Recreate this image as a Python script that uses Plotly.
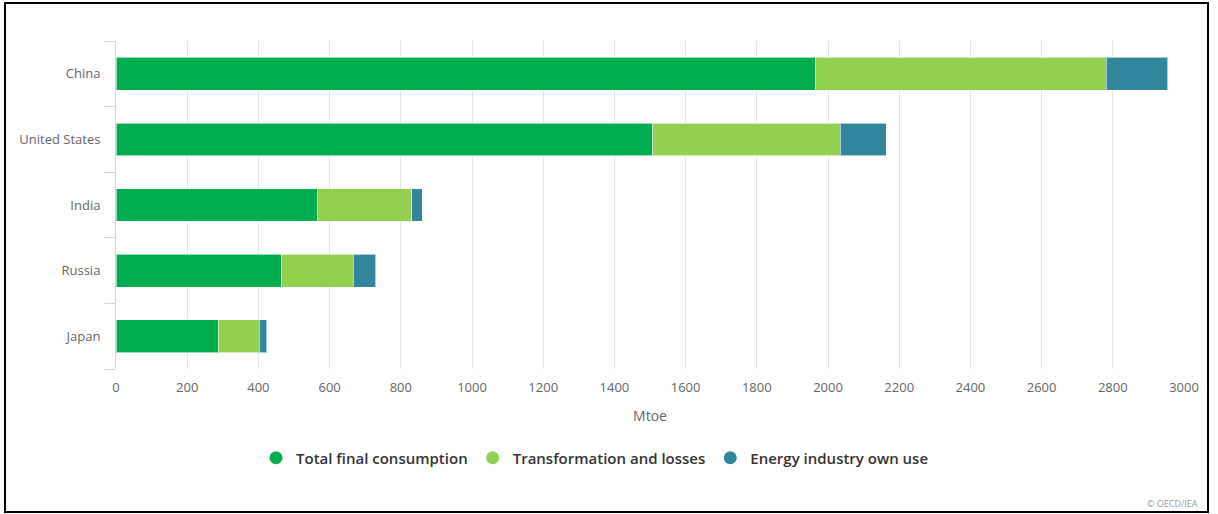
import plotly.graph_objects as go

countries = ["China", "United States", "India", "Russia", "Japan"]
total_final_consumption = [1966, 1508, 565, 465, 287]
transformation_losses = [815, 526, 266, 202, 116]
energy_industry_own_use = [174, 129, 29, 63, 20]

series_names = ["Total final consumption", "Transformation and losses", "Energy industry own use"]
series_values = [total_final_consumption, transformation_losses, energy_industry_own_use]
colors = ["#00AD4E", "#92D050", "#31869C"]
x_ticks = list(range(0, 3001, 200))

W, H = 1218, 514
L, R, T, B = 116, 34, 41, 145
pw, ph = W - L - R, H - T - B

fig = go.Figure()
for name, vals, col in zip(series_names, series_values, colors):
    fig.add_trace(go.Bar(
        y=countries, x=vals, name=name, orientation="h",
        marker=dict(color=col, line=dict(color="rgba(255,255,255,0.6)", width=1)),
        width=0.5, showlegend=False,
    ))
for name, col in zip(series_names, colors):
    fig.add_trace(go.Scatter(
        x=[None], y=[None], mode="markers", name=name,
        marker=dict(color=col, size=13, symbol="circle"),
    ))

def px_x(p):
    return (p - L) / pw

def px_y(p):
    return (H - B - p) / ph

fig.update_layout(
    width=W, height=H,
    margin=dict(l=L, r=R, t=T, b=B),
    paper_bgcolor="white", plot_bgcolor="white",
    barmode="stack",
    font=dict(family="Open Sans", size=13, color="#666666"),
    xaxis=dict(
        range=[0, 3000], tickvals=x_ticks, showgrid=True, gridcolor="#e6e6e6",
        gridwidth=1, zeroline=False, showline=False,
        ticks="outside", ticklen=6, tickcolor="rgba(0,0,0,0)",
        tickfont=dict(size=13, color="#666666"),
        title=dict(text="Mtoe", font=dict(size=14, color="#666666"), standoff=16),
        fixedrange=True,
    ),
    yaxis=dict(
        categoryorder="array", categoryarray=countries[::-1],
        tickson="boundaries", ticks="outside", ticklen=11, tickcolor="#ccd6eb",
        ticklabelstandoff=12,
        showline=True, linecolor="#ccd6eb", linewidth=1,
        showgrid=False, tickfont=dict(size=13, color="#666666"),
        fixedrange=True,
    ),
    legend=dict(
        orientation="h", x=px_x(595), xanchor="center", y=px_y(458), yanchor="middle",
        font=dict(size=15, color="#333333", weight=600), itemwidth=30,
        traceorder="normal",
    ),
    shapes=[dict(
        type="rect", xref="paper", yref="paper",
        x0=px_x(5), x1=px_x(1208), y0=px_y(512), y1=px_y(3),
        line=dict(color="black", width=2), fillcolor="rgba(0,0,0,0)", layer="above",
    )],
    annotations=[dict(
        text="© OECD/IEA", xref="paper", yref="paper", x=px_x(1200), y=px_y(503),
        xanchor="right", yanchor="middle", showarrow=False,
        font=dict(size=9, color="#999999"),
    )],
)

fig.write_html(
    "out.html",
    config={"displayModeBar": False},
    post_script="document.body.style.margin='0px';document.body.style.padding='0px';",
)
